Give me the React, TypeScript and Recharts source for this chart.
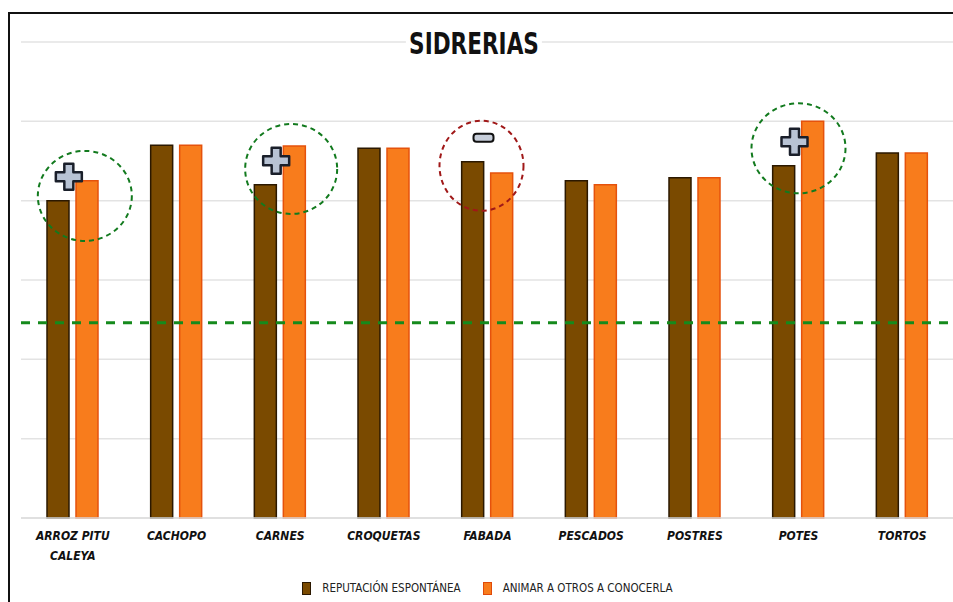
import React from 'react';
import { BarChart, Bar, XAxis, YAxis, CartesianGrid, ReferenceLine, ReferenceDot, Legend } from 'recharts';

const categories = ['ARROZ PITU CALEYA', 'CACHOPO', 'CARNES', 'CROQUETAS', 'FABADA', 'PESCADOS', 'POSTRES', 'POTES', 'TORTOS'];
const reputacion = [4.0, 4.7, 4.2, 4.66, 4.49, 4.25, 4.29, 4.44, 4.6];
const animar = [4.25, 4.7, 4.69, 4.66, 4.35, 4.2, 4.29, 5.0, 4.6];
const yTicks = [0, 1, 2, 3, 4, 5, 6];
const referenceValue = 2.46;

// highlighted categories (circled) and their sign
const markedCats = ['ARROZ PITU CALEYA', 'CARNES', 'FABADA', 'POTES'];
const markedLevels = [4.06, 4.4, 4.44, 4.66];
const markedSigns = ['+', '+', '-', '+'];

const data = categories.map((name, i) => ({ name, reputacion: reputacion[i], animar: animar[i] }));

const BROWN = '#7a4a00';
const ORANGE = '#f87c1c';
const FONT = "'DejaVu Sans Condensed', 'Noto Sans', sans-serif";

const ellipseDx = [12, 11, -6, 0];
const ellipseRx = [47, 46, 42, 47];

const CategoryTick = (props: any) => {
  const { x, y, payload } = props;
  const words: string[] = payload.value.split(' ');
  const lines = words.length > 2 ? [words.slice(0, 2).join(' '), words.slice(2).join(' ')] : [payload.value];
  return (
    <g transform={`translate(${x},${y})`}>
      {lines.map((l, i) => (
        <text key={i} x={0} y={14 + i * 20} textAnchor="middle" fontFamily={FONT} fontSize={12}
          fontWeight="bold" fontStyle="italic" fill="#111">{l}</text>
      ))}
    </g>
  );
};

const Ring = (i: number) => (props: any) => {
  const { cx, cy } = props;
  const red = markedSigns[i] === '-';
  return (
    <ellipse cx={cx + ellipseDx[i]} cy={cy} rx={ellipseRx[i]} ry={45} fill="none"
      stroke={red ? '#a01818' : '#127a1e'} strokeWidth={2} strokeDasharray="5 4" />
  );
};

const Sign = (i: number) => (props: any) => {
  const { cx, cy } = props;
  const x = cx - 4;
  const y = cy - 24;
  if (markedSigns[i] === '-') {
    return <rect x={x - 10} y={y - 4} width={20} height={8} rx={3} fill="#c7ceda" stroke="#111" strokeWidth={2} />;
  }
  const a = 13, w = 4.5;
  const d = `M${x - w},${y - a} H${x + w} V${y - w} H${x + a} V${y + w} H${x + w} V${y + a} H${x - w} V${y + w} H${x - a} V${y - w} H${x - w} Z`;
  return <path d={d} fill="#b8c3d4" stroke="#1a1f2a" strokeWidth={2.5} strokeLinejoin="round" />;
};

const renderLegend = () => (
  <div style={{ display: 'flex', justifyContent: 'center', gap: 22, fontFamily: FONT, fontSize: 11.5, color: '#222', paddingLeft: 0 }}>
    {[{ label: 'REPUTACIÓN ESPONTÁNEA', color: BROWN, border: '#2b1800' }, { label: 'ANIMAR A OTROS A CONOCERLA', color: ORANGE, border: '#e04a0a' }].map((it) => (
      <span key={it.label} style={{ display: 'flex', alignItems: 'center' }}>
        <span style={{ display: 'inline-block', width: 7, height: 11, background: it.color, border: `1px solid ${it.border}`, marginRight: 11 }} />
        {it.label}
      </span>
    ))}
  </div>
);

export default function App() {
  return (
    <div style={{ position: 'absolute', left: 0, top: 0, width: 953, height: 602, overflow: 'hidden', background: '#fff' }}>
      <div style={{ position: 'absolute', left: 8, top: 12, width: 1000, height: 700, border: '2px solid #111' }} />
      <div style={{ position: 'absolute', left: 0, top: 0 }}>
        <BarChart width={960} height={602} data={data} margin={{ top: 42, right: 6, bottom: 0, left: 21 }}
          barSize={22} barGap={7}>
          <CartesianGrid vertical={false} stroke="#e3e3e3" strokeWidth={1.5} />
          <XAxis dataKey="name" tick={<CategoryTick />} tickLine={false} axisLine={{ stroke: '#dcdcdc', strokeWidth: 1.5 }}
            interval={0} height={60} />
          <YAxis hide domain={[0, 6]} ticks={yTicks} width={0} />
          <Legend verticalAlign="bottom" content={renderLegend} wrapperStyle={{ bottom: -3 }} height={24} />
          <Bar dataKey="reputacion" fill={BROWN} stroke="#2b1800" strokeWidth={1.5} isAnimationActive={false} />
          <Bar dataKey="animar" fill={ORANGE} stroke="#e5520c" strokeWidth={1.5} isAnimationActive={false} />
          <ReferenceLine y={referenceValue} stroke="#158a1c" strokeWidth={3} strokeDasharray="9 8" />
          {markedCats.map((c, i) => (
            <ReferenceDot key={`r${c}`} x={c} y={markedLevels[i]} shape={Ring(i)} />
          ))}
          {markedCats.map((c, i) => (
            <ReferenceDot key={`s${c}`} x={c} y={reputacion[categories.indexOf(c)]} shape={Sign(i)} />
          ))}
        </BarChart>
      </div>
      <div style={{ position: 'absolute', left: 474, top: 28, transform: 'translateX(-50%) scaleX(0.8)', background: '#fff', padding: '0 4px',
        fontFamily: FONT, fontWeight: 'bold', fontSize: 30, color: '#111', lineHeight: '32px' }}>SIDRERIAS</div>
    </div>
  );
}
